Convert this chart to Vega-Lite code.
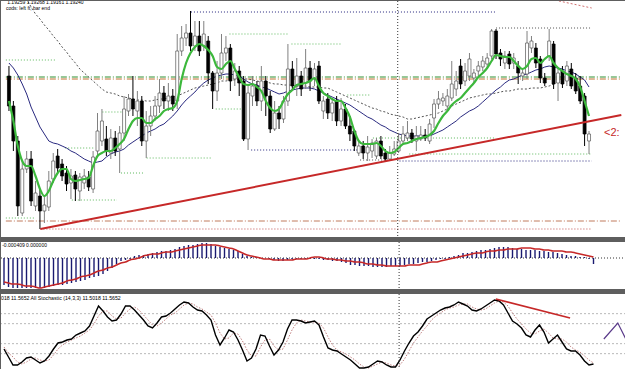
{
"$schema":"https://vega.github.io/schema/vega-lite/v6.json",
"padding":0,
"background":"#5e5e5e",
"spacing":3,
"config":{"view":{"fill":"white","stroke":null},"text":{"font":"Liberation Sans"}},
"datasets":{
"bars":[
{"i":0,"o":1.1925,"h":1.1935,"l":1.1890,"c":1.1895,"g":1.1900,"b":1.1938,"d":1.2030,"m":-0.00054,"s":-0.00048,"k":27,"ks":30},
{"i":1,"o":1.1895,"h":1.1900,"l":1.1850,"c":1.1860,"g":1.1880,"b":1.1933,"d":1.2023,"m":-0.00058,"s":-0.0005,"k":15,"ks":21},
{"i":2,"o":1.1860,"h":1.1865,"l":1.1785,"c":1.1795,"g":1.1855,"b":1.1926,"d":1.2016,"m":-0.0006,"s":-0.00052,"k":3,"ks":15},
{"i":3,"o":1.1788,"h":1.1840,"l":1.1785,"c":1.1832,"g":1.1840,"b":1.1917,"d":1.2009,"m":-0.0006,"s":-0.00052,"k":3,"ks":7.5},
{"i":4,"o":1.1832,"h":1.1850,"l":1.1828,"c":1.1842,"g":1.1835,"b":1.1907,"d":1.2002,"m":-0.0006,"s":-0.00054,"k":7.5,"ks":4.5},
{"i":5,"o":1.1842,"h":1.1850,"l":1.1795,"c":1.1800,"g":1.1835,"b":1.1894,"d":1.1994,"m":-0.0006,"s":-0.00056,"k":13.5,"ks":7.5},
{"i":6,"o":1.1795,"h":1.1820,"l":1.1790,"c":1.1808,"g":1.1825,"b":1.1884,"d":1.1987,"m":-0.0006,"s":-0.00056,"k":15,"ks":12},
{"i":7,"o":1.1805,"h":1.1812,"l":1.1772,"c":1.1790,"g":1.1812,"b":1.1874,"d":1.1982,"m":-0.0006,"s":-0.00058,"k":10.5,"ks":13.5},
{"i":8,"o":1.1790,"h":1.1805,"l":1.1778,"c":1.1796,"g":1.1805,"b":1.1867,"d":1.1976,"m":-0.0006,"s":-0.0006,"k":6,"ks":10.5},
{"i":9,"o":1.1794,"h":1.1830,"l":1.1790,"c":1.1820,"g":1.1810,"b":1.1860,"d":1.1971,"m":-0.0006,"s":-0.00058,"k":9,"ks":9},
{"i":10,"o":1.1822,"h":1.1848,"l":1.1818,"c":1.1840,"g":1.1820,"b":1.1858,"d":1.1965,"m":-0.00058,"s":-0.00056,"k":16.5,"ks":10.5},
{"i":11,"o":1.1845,"h":1.1852,"l":1.1828,"c":1.1833,"g":1.1828,"b":1.1857,"d":1.1960,"m":-0.00056,"s":-0.00054,"k":27,"ks":18},
{"i":12,"o":1.1837,"h":1.1842,"l":1.1820,"c":1.1825,"g":1.1832,"b":1.1855,"d":1.1954,"m":-0.00054,"s":-0.00052,"k":36,"ks":27},
{"i":13,"o":1.1828,"h":1.1835,"l":1.1810,"c":1.1817,"g":1.1832,"b":1.1853,"d":1.1949,"m":-0.00054,"s":-0.0005,"k":37.5,"ks":33},
{"i":14,"o":1.1818,"h":1.1832,"l":1.1802,"c":1.1825,"g":1.1822,"b":1.1850,"d":1.1943,"m":-0.00052,"s":-0.00046,"k":40.5,"ks":37.5},
{"i":15,"o":1.1826,"h":1.1830,"l":1.1800,"c":1.1812,"g":1.1820,"b":1.1848,"d":1.1938,"m":-0.0005,"s":-0.00044,"k":42,"ks":40.5},
{"i":16,"o":1.1810,"h":1.1828,"l":1.1800,"c":1.1824,"g":1.1821,"b":1.1845,"d":1.1932,"m":-0.00048,"s":-0.00042,"k":48,"ks":43.5},
{"i":17,"o":1.1818,"h":1.1832,"l":1.1812,"c":1.1825,"g":1.1822,"b":1.1842,"d":1.1928,"m":-0.00046,"s":-0.00038,"k":51,"ks":46.5},
{"i":18,"o":1.1824,"h":1.1830,"l":1.1810,"c":1.1814,"g":1.1823,"b":1.1840,"d":1.1924,"m":-0.00044,"s":-0.00036,"k":54,"ks":51},
{"i":19,"o":1.1812,"h":1.1850,"l":1.1808,"c":1.1844,"g":1.1835,"b":1.1838,"d":1.1920,"m":-0.0004,"s":-0.00034,"k":61.5,"ks":55.5},
{"i":20,"o":1.1850,"h":1.1888,"l":1.1845,"c":1.1870,"g":1.1845,"b":1.1839,"d":1.1916,"m":-0.00038,"s":-0.0003,"k":76.5,"ks":64.5},
{"i":21,"o":1.1860,"h":1.1892,"l":1.1855,"c":1.1880,"g":1.1848,"b":1.1840,"d":1.1912,"m":-0.00036,"s":-0.00026,"k":91.5,"ks":76.5},
{"i":22,"o":1.1862,"h":1.1875,"l":1.1845,"c":1.1850,"g":1.1850,"b":1.1844,"d":1.1909,"m":-0.00032,"s":-0.00024,"k":84,"ks":84},
{"i":23,"o":1.1848,"h":1.1872,"l":1.1842,"c":1.1863,"g":1.1850,"b":1.1847,"d":1.1908,"m":-0.00026,"s":-0.0002,"k":75,"ks":84},
{"i":24,"o":1.1863,"h":1.1870,"l":1.1845,"c":1.1850,"g":1.1853,"b":1.1849,"d":1.1907,"m":-0.0002,"s":-0.00018,"k":69,"ks":76.5},
{"i":25,"o":1.1852,"h":1.1875,"l":1.1828,"c":1.1868,"g":1.1857,"b":1.1850,"d":1.1905,"m":-0.00012,"s":-0.00014,"k":70.5,"ks":72},
{"i":26,"o":1.1868,"h":1.1905,"l":1.1860,"c":1.1892,"g":1.1862,"b":1.1852,"d":1.1904,"m":-0.00006,"s":-0.0001,"k":79.5,"ks":73.5},
{"i":27,"o":1.1890,"h":1.1907,"l":1.1885,"c":1.1902,"g":1.1872,"b":1.1856,"d":1.1903,"m":-0.00004,"s":-0.00008,"k":91.5,"ks":81},
{"i":28,"o":1.1902,"h":1.1925,"l":1.1885,"c":1.1892,"g":1.1880,"b":1.1859,"d":1.1902,"m":-0.00002,"s":-0.00004,"k":91.5,"ks":87},
{"i":29,"o":1.1890,"h":1.1910,"l":1.1875,"c":1.1900,"g":1.1883,"b":1.1862,"d":1.1901,"m":0.00004,"s":-0.00002,"k":85.5,"ks":90},
{"i":30,"o":1.1900,"h":1.1905,"l":1.1855,"c":1.1860,"g":1.1883,"b":1.1865,"d":1.1901,"m":0.00006,"s":0,"k":78,"ks":85.5},
{"i":31,"o":1.1860,"h":1.1890,"l":1.1843,"c":1.1875,"g":1.1878,"b":1.1868,"d":1.1900,"m":0.00006,"s":0.00004,"k":70.5,"ks":78},
{"i":32,"o":1.1875,"h":1.1895,"l":1.1865,"c":1.1885,"g":1.1878,"b":1.1870,"d":1.1900,"m":0.00008,"s":0.00006,"k":61.5,"ks":70.5},
{"i":33,"o":1.1885,"h":1.1905,"l":1.1880,"c":1.1895,"g":1.1882,"b":1.1872,"d":1.1901,"m":0.0001,"s":0.00008,"k":58.5,"ks":63},
{"i":34,"o":1.1895,"h":1.1922,"l":1.1888,"c":1.1908,"g":1.1885,"b":1.1875,"d":1.1902,"m":0.00012,"s":0.00008,"k":66,"ks":61.5},
{"i":35,"o":1.1908,"h":1.1915,"l":1.1892,"c":1.1900,"g":1.1890,"b":1.1877,"d":1.1902,"m":0.00014,"s":0.0001,"k":75,"ks":66},
{"i":36,"o":1.1900,"h":1.1918,"l":1.1890,"c":1.1905,"g":1.1892,"b":1.1881,"d":1.1903,"m":0.00014,"s":0.00012,"k":76.5,"ks":72},
{"i":37,"o":1.1905,"h":1.1912,"l":1.1890,"c":1.1897,"g":1.1893,"b":1.1885,"d":1.1904,"m":0.00016,"s":0.00012,"k":81,"ks":78},
{"i":38,"o":1.1900,"h":1.1967,"l":1.1892,"c":1.1950,"g":1.1900,"b":1.1890,"d":1.1905,"m":0.00018,"s":0.00014,"k":87,"ks":81},
{"i":39,"o":1.1950,"h":1.1975,"l":1.1945,"c":1.1963,"g":1.1922,"b":1.1896,"d":1.1907,"m":0.00022,"s":0.00016,"k":93,"ks":87},
{"i":40,"o":1.1963,"h":1.1977,"l":1.1955,"c":1.1968,"g":1.1938,"b":1.1901,"d":1.1909,"m":0.00024,"s":0.00018,"k":97.5,"ks":93},
{"i":41,"o":1.1968,"h":1.1990,"l":1.1950,"c":1.1955,"g":1.1948,"b":1.1905,"d":1.1911,"m":0.00026,"s":0.0002,"k":96,"ks":96},
{"i":42,"o":1.1955,"h":1.1980,"l":1.1950,"c":1.1965,"g":1.1954,"b":1.1909,"d":1.1913,"m":0.00026,"s":0.00022,"k":90,"ks":94.5},
{"i":43,"o":1.1965,"h":1.1980,"l":1.1945,"c":1.1950,"g":1.1957,"b":1.1914,"d":1.1914,"m":0.00028,"s":0.00024,"k":85.5,"ks":90},
{"i":44,"o":1.1955,"h":1.1980,"l":1.1950,"c":1.1967,"g":1.1955,"b":1.1918,"d":1.1915,"m":0.0003,"s":0.00026,"k":84,"ks":87},
{"i":45,"o":1.1960,"h":1.1965,"l":1.1917,"c":1.1928,"g":1.1951,"b":1.1921,"d":1.1916,"m":0.0003,"s":0.00026,"k":78,"ks":82.5},
{"i":46,"o":1.1928,"h":1.1930,"l":1.1892,"c":1.1910,"g":1.1945,"b":1.1923,"d":1.1917,"m":0.00028,"s":0.00026,"k":70.5,"ks":78},
{"i":47,"o":1.1910,"h":1.1940,"l":1.1900,"c":1.1928,"g":1.1934,"b":1.1925,"d":1.1918,"m":0.00024,"s":0.00026,"k":48,"ks":66},
{"i":48,"o":1.1928,"h":1.1967,"l":1.1922,"c":1.1948,"g":1.1932,"b":1.1926,"d":1.1920,"m":0.00022,"s":0.00024,"k":33,"ks":51},
{"i":49,"o":1.1948,"h":1.1965,"l":1.1940,"c":1.1953,"g":1.1937,"b":1.1927,"d":1.1920,"m":0.0002,"s":0.00022,"k":43.5,"ks":42},
{"i":50,"o":1.1953,"h":1.1957,"l":1.1910,"c":1.1920,"g":1.1940,"b":1.1927,"d":1.1921,"m":0.00018,"s":0.0002,"k":55.5,"ks":43.5},
{"i":51,"o":1.1922,"h":1.1938,"l":1.1915,"c":1.1930,"g":1.1932,"b":1.1926,"d":1.1921,"m":0.00016,"s":0.00018,"k":52.5,"ks":51},
{"i":52,"o":1.1930,"h":1.1935,"l":1.1905,"c":1.1918,"g":1.1924,"b":1.1925,"d":1.1922,"m":0.00014,"s":0.00014,"k":40.5,"ks":49.5},
{"i":53,"o":1.1920,"h":1.1925,"l":1.1860,"c":1.1862,"g":1.1917,"b":1.1922,"d":1.1922,"m":0.00008,"s":0.0001,"k":25.5,"ks":39},
{"i":54,"o":1.1862,"h":1.1915,"l":1.1851,"c":1.1908,"g":1.1916,"b":1.1919,"d":1.1922,"m":0.00004,"s":0.00006,"k":9,"ks":25.5},
{"i":55,"o":1.1905,"h":1.1925,"l":1.1895,"c":1.1915,"g":1.1917,"b":1.1917,"d":1.1921,"m":0.00002,"s":0.00004,"k":13.5,"ks":16.5},
{"i":56,"o":1.1915,"h":1.1920,"l":1.1895,"c":1.1900,"g":1.1914,"b":1.1916,"d":1.1920,"m":0.00002,"s":0.00002,"k":27,"ks":16.5},
{"i":57,"o":1.1900,"h":1.1935,"l":1.1890,"c":1.1920,"g":1.1910,"b":1.1914,"d":1.1919,"m":0,"s":0,"k":48,"ks":30},
{"i":58,"o":1.1920,"h":1.1925,"l":1.1885,"c":1.1905,"g":1.1900,"b":1.1913,"d":1.1919,"m":0,"s":-0.00002,"k":46.5,"ks":40.5},
{"i":59,"o":1.1905,"h":1.1910,"l":1.1868,"c":1.1872,"g":1.1893,"b":1.1911,"d":1.1918,"m":-0.00002,"s":-0.00002,"k":31.5,"ks":42},
{"i":60,"o":1.1872,"h":1.1900,"l":1.1870,"c":1.1888,"g":1.1890,"b":1.1909,"d":1.1917,"m":-0.00004,"s":-0.00004,"k":18,"ks":31.5},
{"i":61,"o":1.1888,"h":1.1895,"l":1.1872,"c":1.1882,"g":1.1892,"b":1.1907,"d":1.1917,"m":-0.00006,"s":-0.00004,"k":25.5,"ks":25.5},
{"i":62,"o":1.1882,"h":1.1905,"l":1.1878,"c":1.1900,"g":1.1900,"b":1.1908,"d":1.1916,"m":-0.00006,"s":-0.00004,"k":37.5,"ks":27},
{"i":63,"o":1.1900,"h":1.1957,"l":1.1895,"c":1.1932,"g":1.1907,"b":1.1910,"d":1.1916,"m":-0.00004,"s":-0.00004,"k":57,"ks":40.5},
{"i":64,"o":1.1932,"h":1.1940,"l":1.1910,"c":1.1915,"g":1.1911,"b":1.1911,"d":1.1916,"m":-0.00002,"s":-0.00004,"k":70.5,"ks":55.5},
{"i":65,"o":1.1915,"h":1.1943,"l":1.1905,"c":1.1925,"g":1.1916,"b":1.1912,"d":1.1915,"m":-0.00002,"s":-0.00002,"k":70.5,"ks":66},
{"i":66,"o":1.1925,"h":1.1930,"l":1.1905,"c":1.1912,"g":1.1917,"b":1.1913,"d":1.1915,"m":-0.00002,"s":-0.00002,"k":69,"ks":70.5},
{"i":67,"o":1.1918,"h":1.1952,"l":1.1912,"c":1.1933,"g":1.1918,"b":1.1913,"d":1.1915,"m":-0.00002,"s":-0.00002,"k":66,"ks":69},
{"i":68,"o":1.1933,"h":1.1940,"l":1.1910,"c":1.1920,"g":1.1920,"b":1.1913,"d":1.1914,"m":-0.00002,"s":0,"k":67.5,"ks":67.5},
{"i":69,"o":1.1922,"h":1.1938,"l":1.1915,"c":1.1932,"g":1.1923,"b":1.1912,"d":1.1914,"m":-0.00002,"s":0.00002,"k":69,"ks":67.5},
{"i":70,"o":1.1935,"h":1.1940,"l":1.1897,"c":1.1900,"g":1.1915,"b":1.1910,"d":1.1914,"m":-0.00002,"s":0.00002,"k":63,"ks":66},
{"i":71,"o":1.1890,"h":1.1905,"l":1.1882,"c":1.1900,"g":1.1908,"b":1.1908,"d":1.1913,"m":-0.00004,"s":0,"k":45,"ks":58.5},
{"i":72,"o":1.1902,"h":1.1908,"l":1.1882,"c":1.1888,"g":1.1905,"b":1.1906,"d":1.1913,"m":-0.00004,"s":-0.00002,"k":28.5,"ks":45},
{"i":73,"o":1.1888,"h":1.1903,"l":1.1880,"c":1.1898,"g":1.1902,"b":1.1904,"d":1.1911,"m":-0.00006,"s":-0.00002,"k":25.5,"ks":33},
{"i":74,"o":1.1900,"h":1.1905,"l":1.1875,"c":1.1880,"g":1.1900,"b":1.1902,"d":1.1909,"m":-0.00006,"s":-0.00004,"k":24,"ks":25.5},
{"i":75,"o":1.1880,"h":1.1903,"l":1.1875,"c":1.1892,"g":1.1900,"b":1.1900,"d":1.1907,"m":-0.00008,"s":-0.00004,"k":19.5,"ks":22.5},
{"i":76,"o":1.1892,"h":1.1897,"l":1.1872,"c":1.1875,"g":1.1893,"b":1.1898,"d":1.1905,"m":-0.0001,"s":-0.00006,"k":15,"ks":19.5},
{"i":77,"o":1.1875,"h":1.1885,"l":1.1860,"c":1.1867,"g":1.1884,"b":1.1896,"d":1.1903,"m":-0.00014,"s":-0.00006,"k":10.5,"ks":15},
{"i":78,"o":1.1870,"h":1.1872,"l":1.1850,"c":1.1855,"g":1.1870,"b":1.1893,"d":1.1901,"m":-0.00014,"s":-0.00008,"k":4.5,"ks":10.5},
{"i":79,"o":1.1848,"h":1.1860,"l":1.1845,"c":1.1855,"g":1.1860,"b":1.1890,"d":1.1899,"m":-0.00016,"s":-0.00008,"k":-1.5,"ks":4.5},
{"i":80,"o":1.1855,"h":1.1860,"l":1.1842,"c":1.1848,"g":1.1857,"b":1.1887,"d":1.1897,"m":-0.00016,"s":-0.0001,"k":-1.5,"ks":0},
{"i":81,"o":1.1848,"h":1.1865,"l":1.1840,"c":1.1854,"g":1.1857,"b":1.1884,"d":1.1895,"m":-0.00016,"s":-0.00012,"k":0,"ks":-1.5},
{"i":82,"o":1.1850,"h":1.1862,"l":1.1843,"c":1.1858,"g":1.1857,"b":1.1882,"d":1.1893,"m":-0.00018,"s":-0.00012,"k":4.5,"ks":1.5},
{"i":83,"o":1.1845,"h":1.1863,"l":1.1842,"c":1.1860,"g":1.1858,"b":1.1879,"d":1.1892,"m":-0.00018,"s":-0.00014,"k":9,"ks":4.5},
{"i":84,"o":1.1860,"h":1.1865,"l":1.1842,"c":1.1845,"g":1.1855,"b":1.1876,"d":1.1890,"m":-0.00018,"s":-0.00014,"k":7.5,"ks":7.5},
{"i":85,"o":1.1848,"h":1.1852,"l":1.1839,"c":1.1842,"g":1.1850,"b":1.1874,"d":1.1889,"m":-0.00018,"s":-0.00016,"k":3,"ks":6},
{"i":86,"o":1.1842,"h":1.1855,"l":1.1840,"c":1.1848,"g":1.1848,"b":1.1871,"d":1.1887,"m":-0.00016,"s":-0.00016,"k":0,"ks":3},
{"i":87,"o":1.1847,"h":1.1860,"l":1.1845,"c":1.1852,"g":1.1849,"b":1.1869,"d":1.1886,"m":-0.00016,"s":-0.00016,"k":0,"ks":1.5},
{"i":88,"o":1.1850,"h":1.1868,"l":1.1848,"c":1.1860,"g":1.1853,"b":1.1867,"d":1.1885,"m":-0.00016,"s":-0.00016,"k":10.5,"ks":3},
{"i":89,"o":1.1860,"h":1.1875,"l":1.1858,"c":1.1867,"g":1.1857,"b":1.1866,"d":1.1884,"m":-0.00014,"s":-0.00016,"k":24,"ks":12},
{"i":90,"o":1.1863,"h":1.1880,"l":1.1860,"c":1.1868,"g":1.1858,"b":1.1865,"d":1.1882,"m":-0.00012,"s":-0.00014,"k":36,"ks":24},
{"i":91,"o":1.1868,"h":1.1872,"l":1.1858,"c":1.1862,"g":1.1860,"b":1.1865,"d":1.1882,"m":-0.00012,"s":-0.00014,"k":46.5,"ks":36},
{"i":92,"o":1.1860,"h":1.1875,"l":1.1850,"c":1.1865,"g":1.1862,"b":1.1865,"d":1.1883,"m":-0.0001,"s":-0.00014,"k":52.5,"ks":45},
{"i":93,"o":1.1862,"h":1.1875,"l":1.1860,"c":1.1866,"g":1.1863,"b":1.1865,"d":1.1884,"m":-0.00008,"s":-0.00012,"k":61.5,"ks":54},
{"i":94,"o":1.1866,"h":1.1872,"l":1.1860,"c":1.1863,"g":1.1864,"b":1.1865,"d":1.1885,"m":-0.00008,"s":-0.0001,"k":72,"ks":61.5},
{"i":95,"o":1.1860,"h":1.1882,"l":1.1857,"c":1.1877,"g":1.1866,"b":1.1865,"d":1.1886,"m":-0.00006,"s":-0.00008,"k":76.5,"ks":70.5},
{"i":96,"o":1.1883,"h":1.1902,"l":1.1873,"c":1.1897,"g":1.1870,"b":1.1867,"d":1.1887,"m":-0.00004,"s":-0.00008,"k":81,"ks":76.5},
{"i":97,"o":1.1897,"h":1.1910,"l":1.1892,"c":1.1902,"g":1.1878,"b":1.1869,"d":1.1888,"m":-0.00002,"s":-0.00006,"k":85.5,"ks":81},
{"i":98,"o":1.1900,"h":1.1908,"l":1.1895,"c":1.1903,"g":1.1885,"b":1.1871,"d":1.1890,"m":-0.00002,"s":-0.00004,"k":88.5,"ks":85.5},
{"i":99,"o":1.1895,"h":1.1912,"l":1.1890,"c":1.1905,"g":1.1890,"b":1.1874,"d":1.1892,"m":0.00002,"s":-0.00002,"k":90,"ks":88.5},
{"i":100,"o":1.1903,"h":1.1940,"l":1.1900,"c":1.1917,"g":1.1896,"b":1.1877,"d":1.1895,"m":0.00004,"s":0,"k":93,"ks":90},
{"i":101,"o":1.1912,"h":1.1930,"l":1.1905,"c":1.1920,"g":1.1900,"b":1.1880,"d":1.1897,"m":0.00006,"s":0.00002,"k":97.5,"ks":93},
{"i":102,"o":1.1935,"h":1.1942,"l":1.1912,"c":1.1917,"g":1.1903,"b":1.1884,"d":1.1899,"m":0.0001,"s":0.00004,"k":94.5,"ks":94.5},
{"i":103,"o":1.1920,"h":1.1938,"l":1.1915,"c":1.1930,"g":1.1908,"b":1.1887,"d":1.1901,"m":0.0001,"s":0.00006,"k":91.5,"ks":94.5},
{"i":104,"o":1.1925,"h":1.1948,"l":1.1920,"c":1.1942,"g":1.1913,"b":1.1890,"d":1.1903,"m":0.00012,"s":0.00008,"k":85.5,"ks":90},
{"i":105,"o":1.1923,"h":1.1932,"l":1.1918,"c":1.1928,"g":1.1918,"b":1.1892,"d":1.1904,"m":0.00014,"s":0.0001,"k":84,"ks":87},
{"i":106,"o":1.1930,"h":1.1940,"l":1.1925,"c":1.1935,"g":1.1924,"b":1.1895,"d":1.1905,"m":0.00016,"s":0.0001,"k":87,"ks":85.5},
{"i":107,"o":1.1934,"h":1.1945,"l":1.1930,"c":1.1940,"g":1.1928,"b":1.1899,"d":1.1906,"m":0.00016,"s":0.00012,"k":91.5,"ks":87},
{"i":108,"o":1.1937,"h":1.1948,"l":1.1932,"c":1.1943,"g":1.1933,"b":1.1903,"d":1.1907,"m":0.00018,"s":0.00014,"k":96,"ks":91.5},
{"i":109,"o":1.1945,"h":1.1972,"l":1.1942,"c":1.1970,"g":1.1940,"b":1.1907,"d":1.1907,"m":0.0002,"s":0.00014,"k":100.5,"ks":96},
{"i":110,"o":1.1970,"h":1.1972,"l":1.1942,"c":1.1947,"g":1.1946,"b":1.1911,"d":1.1908,"m":0.00022,"s":0.00016,"k":99,"ks":99},
{"i":111,"o":1.1948,"h":1.1952,"l":1.1935,"c":1.1942,"g":1.1945,"b":1.1914,"d":1.1909,"m":0.00022,"s":0.00016,"k":93,"ks":97.5},
{"i":112,"o":1.1938,"h":1.1950,"l":1.1932,"c":1.1945,"g":1.1944,"b":1.1918,"d":1.1910,"m":0.00022,"s":0.00018,"k":81,"ks":91.5},
{"i":113,"o":1.1947,"h":1.1950,"l":1.1932,"c":1.1937,"g":1.1944,"b":1.1921,"d":1.1910,"m":0.0002,"s":0.00018,"k":69,"ks":81},
{"i":114,"o":1.1938,"h":1.1948,"l":1.1932,"c":1.1943,"g":1.1940,"b":1.1922,"d":1.1911,"m":0.00018,"s":0.00018,"k":64.5,"ks":72},
{"i":115,"o":1.1935,"h":1.1940,"l":1.1917,"c":1.1928,"g":1.1935,"b":1.1924,"d":1.1912,"m":0.00018,"s":0.0002,"k":58.5,"ks":64.5},
{"i":116,"o":1.1925,"h":1.1932,"l":1.1920,"c":1.1928,"g":1.1932,"b":1.1926,"d":1.1912,"m":0.00016,"s":0.0002,"k":48,"ks":57},
{"i":117,"o":1.1927,"h":1.1970,"l":1.1922,"c":1.1958,"g":1.1935,"b":1.1927,"d":1.1912,"m":0.00016,"s":0.0002,"k":45,"ks":51},
{"i":118,"o":1.1953,"h":1.1965,"l":1.1948,"c":1.1960,"g":1.1942,"b":1.1929,"d":1.1913,"m":0.00016,"s":0.00018,"k":55.5,"ks":49.5},
{"i":119,"o":1.1953,"h":1.1958,"l":1.1933,"c":1.1938,"g":1.1943,"b":1.1931,"d":1.1913,"m":0.00014,"s":0.00018,"k":63,"ks":54},
{"i":120,"o":1.1942,"h":1.1945,"l":1.1918,"c":1.1923,"g":1.1938,"b":1.1932,"d":1.1913,"m":0.00014,"s":0.00016,"k":52.5,"ks":57},
{"i":121,"o":1.1923,"h":1.1928,"l":1.1915,"c":1.1918,"g":1.1942,"b":1.1934,"d":1.1914,"m":0.00012,"s":0.00016,"k":36,"ks":51},
{"i":122,"o":1.1945,"h":1.1972,"l":1.1940,"c":1.1960,"g":1.1945,"b":1.1935,"d":1.1915,"m":0.00012,"s":0.00014,"k":42,"ks":43.5},
{"i":123,"o":1.1957,"h":1.1960,"l":1.1912,"c":1.1917,"g":1.1938,"b":1.1934,"d":1.1917,"m":0.0001,"s":0.00014,"k":48,"ks":42},
{"i":124,"o":1.1918,"h":1.1932,"l":1.1900,"c":1.1928,"g":1.1933,"b":1.1933,"d":null,"m":0.00008,"s":0.00014,"k":37.5,"ks":42},
{"i":125,"o":1.1930,"h":1.1935,"l":1.1913,"c":1.1917,"g":1.1930,"b":1.1932,"d":null,"m":0.00006,"s":0.00012,"k":27,"ks":37.5},
{"i":126,"o":1.1920,"h":1.1940,"l":1.1915,"c":1.1935,"g":1.1927,"b":1.1930,"d":null,"m":0.00004,"s":0.00012,"k":24,"ks":30},
{"i":127,"o":1.1932,"h":1.1938,"l":1.1912,"c":1.1915,"g":1.1925,"b":1.1929,"d":null,"m":0.00004,"s":0.0001,"k":24,"ks":25.5},
{"i":128,"o":1.1923,"h":1.1928,"l":1.1907,"c":1.1910,"g":1.1922,"b":1.1927,"d":null,"m":0.00002,"s":0.00008,"k":18,"ks":22.5},
{"i":129,"o":1.1915,"h":1.1925,"l":1.1897,"c":1.1900,"g":1.1914,"b":1.1924,"d":null,"m":0.00002,"s":0.00006,"k":9,"ks":16.5},
{"i":130,"o":1.1905,"h":1.1908,"l":1.1855,"c":1.1867,"g":1.1900,"b":1.1921,"d":null,"m":-0.00002,"s":0.00004,"k":3,"ks":10.5},
{"i":131,"o":1.1860,"h":1.1870,"l":1.1847,"c":1.1867,"g":1.1885,"b":1.1914,"d":null,"m":-0.00012,"s":0.00002,"k":4.5,"ks":6}
],
"levels":[
{"p":1.1989,"a":41.1,"z":110,"kind":"High"},
{"p":1.1973,"a":110,"z":131.6,"kind":"Top"},
{"p":1.1924,"a":-0.7,"z":138.3,"kind":"Pivot"},
{"p":1.1922,"a":-0.7,"z":138.3,"kind":"Pivot2"},
{"p":1.1780,"a":-0.7,"z":138.3,"kind":"Low2"},
{"p":1.1772,"a":7.1,"z":131.6,"kind":"Low"},
{"p":1.1851,"a":54.7,"z":78.7,"kind":"High"},
{"p":1.1841,"a":79.3,"z":86.7,"kind":"Top"},
{"p":1.1840,"a":88.2,"z":131.6,"kind":"High"},
{"p":1.1847,"a":90.4,"z":131.6,"kind":"Zone"},
{"p":1.1863,"a":82.2,"z":109.8,"kind":"Zone"},
{"p":1.1941,"a":-0.7,"z":10.4,"kind":"Zone"},
{"p":1.1889,"a":21.1,"z":26,"kind":"Zone"},
{"p":1.1853,"a":12.7,"z":19.3,"kind":"Zone"},
{"p":1.1828,"a":25.3,"z":30.4,"kind":"Zone"},
{"p":1.1801,"a":14.2,"z":24.4,"kind":"Zone"},
{"p":1.1783,"a":-0.7,"z":6,"kind":"Zone"},
{"p":1.1843,"a":31.1,"z":46,"kind":"Zone"},
{"p":1.1967,"a":49.8,"z":63.1,"kind":"Zone"},
{"p":1.1957,"a":63.8,"z":74.9,"kind":"Zone"},
{"p":1.1892,"a":46.7,"z":52.7,"kind":"Zone"},
{"p":1.1906,"a":76.4,"z":81.6,"kind":"Zone"}
],
"trend":[{"i":7.1,"p":1.1772},{"i":138.3,"p":1.1886}],
"trend2":[{"i":124.2,"p":1.2000},{"i":131.6,"p":1.1993}],
"marker":[{"i":87.8}],
"stochlevels":[{"v":80},{"v":65},{"v":35},{"v":20}],
"stochtrend":[{"i":109.3,"v":102},{"i":125.8,"v":73.5}],
"stochpurple":[{"i":133.3,"v":42},{"i":136.4,"v":66},{"i":138.3,"v":40.5}]
},
"vconcat":[
{
"width":625,"height":236,
"layer":[
{"data":{"name":"levels"},"mark":{"type":"rule","clip":true,"strokeWidth":1},
"encoding":{
"x":{"field":"a","type":"quantitative","scale":{"domain":[-0.667,138.222],"nice":false,"zero":false},"axis":null},
"x2":{"field":"z"},
"y":{"field":"p","type":"quantitative","scale":{"domain":[1.1764,1.2],"nice":false,"zero":false},"axis":null},
"color":{"field":"kind","type":"nominal","legend":null,"scale":{"domain":["High","Top","Pivot","Pivot2","Low2","Low","Zone"],"range":["#26267e","#555555","#2f8f2f","#c07030","#c07a5c","#c05050","#5cb85c"]}},
"strokeDash":{"field":"kind","type":"nominal","legend":null,"scale":{"domain":["High","Top","Pivot","Pivot2","Low2","Low","Zone"],"range":[[1,2],[1,2],[6,2,1,2],[6,2,1,2],[6,2,1,2],[1,2],[1,2]]}}
}},
{"data":{"name":"bars"},"mark":{"type":"line","clip":true,"color":"#555555","strokeWidth":1,"strokeDash":[2,2]},
"encoding":{
"x":{"field":"i","type":"quantitative","scale":{"domain":[-0.667,138.222],"nice":false,"zero":false},"axis":null},
"y":{"field":"d","type":"quantitative","scale":{"domain":[1.1764,1.2],"nice":false,"zero":false},"axis":null}}},
{"data":{"name":"bars"},"mark":{"type":"line","clip":true,"color":"#2a2a80","strokeWidth":1},
"encoding":{
"x":{"field":"i","type":"quantitative","scale":{"domain":[-0.667,138.222],"nice":false,"zero":false},"axis":null},
"y":{"field":"b","type":"quantitative","scale":{"domain":[1.1764,1.2],"nice":false,"zero":false},"axis":null}}},
{"data":{"name":"bars"},"mark":{"type":"rule","clip":true,"strokeWidth":1},
"encoding":{
"x":{"field":"i","type":"quantitative","scale":{"domain":[-0.667,138.222],"nice":false,"zero":false},"axis":null},
"y":{"field":"h","type":"quantitative","scale":{"domain":[1.1764,1.2],"nice":false,"zero":false},"axis":null},
"y2":{"field":"l"},
"color":{"condition":{"test":"datum.c >= datum.o","value":"#808080"},"value":"#000000"}}},
{"data":{"name":"bars"},"mark":{"type":"bar","clip":true,"width":3,"strokeWidth":0.7},
"encoding":{
"x":{"field":"i","type":"quantitative","scale":{"domain":[-0.667,138.222],"nice":false,"zero":false},"axis":null},
"y":{"field":"o","type":"quantitative","scale":{"domain":[1.1764,1.2],"nice":false,"zero":false},"axis":null},
"y2":{"field":"c"},
"fill":{"condition":{"test":"datum.c >= datum.o","value":"#ffffff"},"value":"#000000"},
"stroke":{"condition":{"test":"datum.c >= datum.o","value":"#555555"},"value":"#000000"}}},
{"data":{"name":"bars"},"mark":{"type":"line","clip":true,"color":"#3cb83c","strokeWidth":2.2,"interpolate":"monotone"},
"encoding":{
"x":{"field":"i","type":"quantitative","scale":{"domain":[-0.667,138.222],"nice":false,"zero":false},"axis":null},
"y":{"field":"g","type":"quantitative","scale":{"domain":[1.1764,1.2],"nice":false,"zero":false},"axis":null}}},
{"data":{"name":"trend"},"mark":{"type":"line","clip":true,"color":"#c62828","strokeWidth":2},
"encoding":{
"x":{"field":"i","type":"quantitative","scale":{"domain":[-0.667,138.222],"nice":false,"zero":false},"axis":null},
"y":{"field":"p","type":"quantitative","scale":{"domain":[1.1764,1.2],"nice":false,"zero":false},"axis":null}}},
{"data":{"name":"trend2"},"mark":{"type":"line","clip":true,"color":"#d07070","strokeWidth":1,"strokeDash":[2,2]},
"encoding":{
"x":{"field":"i","type":"quantitative","scale":{"domain":[-0.667,138.222],"nice":false,"zero":false},"axis":null},
"y":{"field":"p","type":"quantitative","scale":{"domain":[1.1764,1.2],"nice":false,"zero":false},"axis":null}}},
{"data":{"name":"marker"},"mark":{"type":"rule","color":"#333333","strokeWidth":1,"strokeDash":[1,2]},
"encoding":{
"x":{"field":"i","type":"quantitative","scale":{"domain":[-0.667,138.222],"nice":false,"zero":false},"axis":null}}},
{"data":{"values":[{"i":-0.4,"p":1.19990,"t":"1.19259 1.19268 1.19161 1.19240"},{"i":-0.667,"p":1.19935,"t":"cods: left ft; bar end"}]},
"mark":{"type":"text","align":"left","baseline":"middle","fontSize":5,"color":"#000000","clip":true},
"encoding":{
"x":{"field":"i","type":"quantitative","scale":{"domain":[-0.667,138.222],"nice":false,"zero":false},"axis":null},
"y":{"field":"p","type":"quantitative","scale":{"domain":[1.1764,1.2],"nice":false,"zero":false},"axis":null},
"text":{"field":"t"}}},
{"data":{"values":[{"i":134.4,"p":1.1868,"t":"<2:"}]},
"mark":{"type":"text","align":"left","baseline":"middle","fontSize":11,"color":"#c62828"},
"encoding":{
"x":{"field":"i","type":"quantitative","scale":{"domain":[-0.667,138.222],"nice":false,"zero":false},"axis":null},
"y":{"field":"p","type":"quantitative","scale":{"domain":[1.1764,1.2],"nice":false,"zero":false},"axis":null},
"text":{"field":"t"}}}
]
},
{
"width":625,"height":47,
"layer":[
{"data":{"values":[{"z":0}]},"mark":{"type":"rule","color":"#333333","strokeWidth":1,"strokeDash":[1,2]},
"encoding":{
"y":{"field":"z","type":"quantitative","scale":{"domain":[-0.00062,0.00032],"nice":false,"zero":false},"axis":null}}},
{"data":{"name":"bars"},"mark":{"type":"rule","clip":true,"color":"#1a1a70","strokeWidth":1.4},
"encoding":{
"x":{"field":"i","type":"quantitative","scale":{"domain":[-0.667,138.222],"nice":false,"zero":false},"axis":null},
"y":{"field":"m","type":"quantitative","scale":{"domain":[-0.00062,0.00032],"nice":false,"zero":false},"axis":null},
"y2":{"datum":0}}},
{"data":{"name":"bars"},"mark":{"type":"line","clip":true,"color":"#c62828","strokeWidth":1.5,"interpolate":"monotone"},
"encoding":{
"x":{"field":"i","type":"quantitative","scale":{"domain":[-0.667,138.222],"nice":false,"zero":false},"axis":null},
"y":{"field":"s","type":"quantitative","scale":{"domain":[-0.00062,0.00032],"nice":false,"zero":false},"axis":null}}},
{"data":{"name":"marker"},"mark":{"type":"rule","color":"#333333","strokeWidth":1,"strokeDash":[1,2]},
"encoding":{
"x":{"field":"i","type":"quantitative","scale":{"domain":[-0.667,138.222],"nice":false,"zero":false},"axis":null}}},
{"data":{"values":[{"i":-0.4,"m":0.00026,"t":"-0.000409 0.000000"}]},
"mark":{"type":"text","align":"left","baseline":"middle","fontSize":5,"color":"#000000"},
"encoding":{
"x":{"field":"i","type":"quantitative","scale":{"domain":[-0.667,138.222],"nice":false,"zero":false},"axis":null},
"y":{"field":"m","type":"quantitative","scale":{"domain":[-0.00062,0.00032],"nice":false,"zero":false},"axis":null},
"text":{"field":"t"}}}
]
},
{
"width":625,"height":80,
"layer":[
{"data":{"name":"stochlevels"},"mark":{"type":"rule","color":"#b8b8b8","strokeWidth":1,"strokeDash":[2,2]},
"encoding":{
"y":{"field":"v","type":"quantitative","scale":{"domain":[-10.5,109.5],"nice":false,"zero":false},"axis":null}}},
{"data":{"name":"bars"},"mark":{"type":"line","clip":true,"color":"#c08080","strokeWidth":1,"strokeDash":[1.5,1.5]},
"encoding":{
"x":{"field":"i","type":"quantitative","scale":{"domain":[-0.667,138.222],"nice":false,"zero":false},"axis":null},
"y":{"field":"ks","type":"quantitative","scale":{"domain":[-10.5,109.5],"nice":false,"zero":false},"axis":null}}},
{"data":{"name":"bars"},"mark":{"type":"line","clip":true,"color":"#000000","strokeWidth":1.4},
"encoding":{
"x":{"field":"i","type":"quantitative","scale":{"domain":[-0.667,138.222],"nice":false,"zero":false},"axis":null},
"y":{"field":"k","type":"quantitative","scale":{"domain":[-10.5,109.5],"nice":false,"zero":false},"axis":null}}},
{"data":{"name":"stochtrend"},"mark":{"type":"line","clip":true,"color":"#c62828","strokeWidth":1.8},
"encoding":{
"x":{"field":"i","type":"quantitative","scale":{"domain":[-0.667,138.222],"nice":false,"zero":false},"axis":null},
"y":{"field":"v","type":"quantitative","scale":{"domain":[-10.5,109.5],"nice":false,"zero":false},"axis":null}}},
{"data":{"name":"stochpurple"},"mark":{"type":"line","clip":true,"color":"#5a3a8a","strokeWidth":1.2},
"encoding":{
"x":{"field":"i","type":"quantitative","scale":{"domain":[-0.667,138.222],"nice":false,"zero":false},"axis":null},
"y":{"field":"v","type":"quantitative","scale":{"domain":[-10.5,109.5],"nice":false,"zero":false},"axis":null}}},
{"data":{"name":"marker"},"mark":{"type":"rule","color":"#333333","strokeWidth":1,"strokeDash":[1,2]},
"encoding":{
"x":{"field":"i","type":"quantitative","scale":{"domain":[-0.667,138.222],"nice":false,"zero":false},"axis":null}}},
{"data":{"values":[{"i":-0.667,"v":103.5,"t":"018 11.5652  All Stochastic (14,3,3) 11.5018 11.5652"}]},
"mark":{"type":"text","align":"left","baseline":"middle","fontSize":5.2,"color":"#000000"},
"encoding":{
"x":{"field":"i","type":"quantitative","scale":{"domain":[-0.667,138.222],"nice":false,"zero":false},"axis":null},
"y":{"field":"v","type":"quantitative","scale":{"domain":[-10.5,109.5],"nice":false,"zero":false},"axis":null},
"text":{"field":"t"}}}
]
}
]
}
